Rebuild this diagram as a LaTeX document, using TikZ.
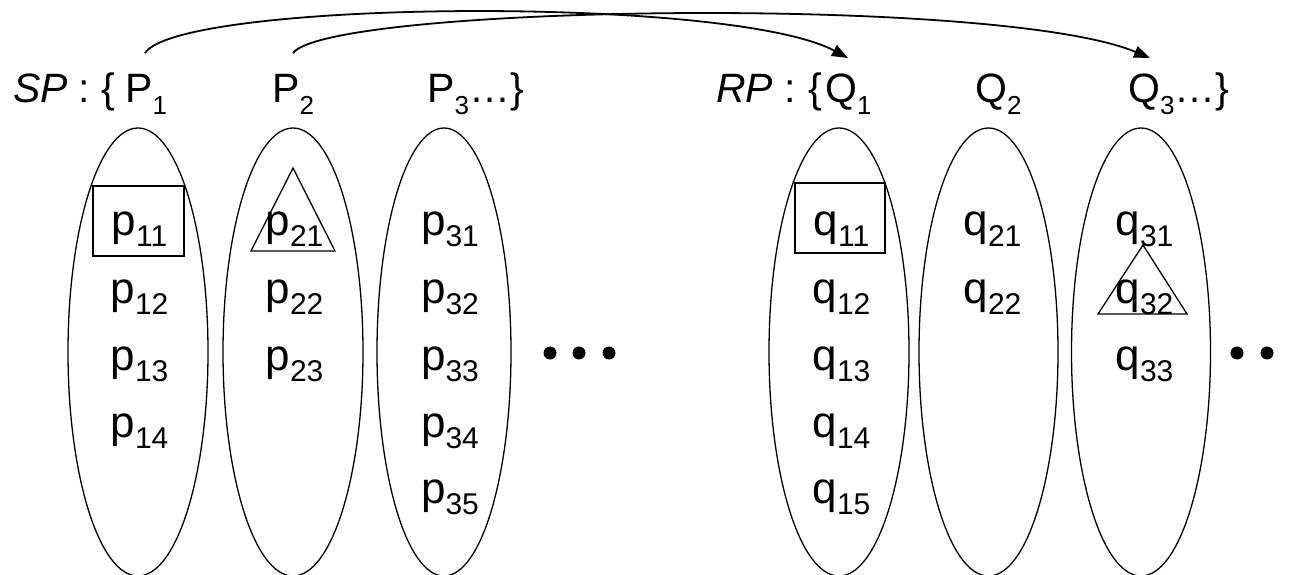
\documentclass[tikz,border=0pt]{standalone}
\usepackage{fontspec}
\setmainfont{Liberation Sans}
\usetikzlibrary{arrows.meta,shapes.geometric}
\newcommand\Lb[2]{#1\raisebox{-12pt}{\fontsize{26}{26}\selectfont #2}}
\newcommand\Li[2]{#1\raisebox{-11.5pt}{\fontsize{30}{30}\selectfont #2}}
\begin{document}
\begin{tikzpicture}[x=1pt,y=-1pt,
  setell/.style={draw, ellipse, line width=1.3pt, inner sep=0pt, minimum width=#1, minimum height=448pt},
  toplab/.style={anchor=base west, inner sep=0pt, font=\fontsize{41}{41}\selectfont},
  elt/.style={anchor=base, inner sep=0pt, font=\fontsize{44}{44}\selectfont},
  markbox/.style={draw, line width=1.3pt, inner sep=0pt},
  mapsto/.style={line width=1.8pt, -{Triangle[length=16pt,width=12pt]}},
  dotmark/.style={fill=black}]
\fill[white] (0,0) rectangle (1290,575);
\useasboundingbox (0,0) rectangle (1290,575);

% set ellipses
\node[setell=140pt] (E1) at (138,352) {};
\node[setell=140pt] (E2) at (293,352) {};
\node[setell=134pt] (E3) at (444,352) {};
\node[setell=140pt] (F1) at (839,352) {};
\node[setell=139pt] (F2) at (988.5,352) {};
\node[setell=139pt] (F3) at (1141,352) {};

% top labels
\node[toplab] (sp) at (13,103) {\textit{SP}};
\node[toplab] (spc) at (78,103) {:};
\node[toplab] (spb) at (101,103) {\{};
\node[toplab] (P1) at (125,103) {\Lb{P}{1}};
\node[toplab] (P2) at (272,103) {\Lb{P}{2}};
\node[toplab] (P3) at (427,103) {\Lb{P}{3}…\}};
\node[toplab] (rp) at (716,103) {\textit{RP}};
\node[toplab] (rpc) at (784,103) {:};
\node[toplab] (rpb) at (808,103) {\{};
\node[toplab] (Q1) at (825,103) {\Lb{Q}{1}};
\node[toplab] (Q2) at (975,103) {\Lb{Q}{2}};
\node[toplab] (Q3) at (1128,103) {\Lb{Q}{3}…\}};

% elements
\foreach \j/\y in {1/235,2/303,3/370,4/437}
  \node[elt] (p1\j) at (139.5,\y) {\Li{p}{1\j}};
\foreach \j/\y in {1/235,2/303,3/370}
  \node[elt] (p2\j) at (294.5,\y) {\Li{p}{2\j}};
\foreach \j/\y in {1/235,2/303,3/370,4/437,5/503}
  \node[elt] (p3\j) at (450,\y) {\Li{p}{3\j}};
\foreach \j/\y in {1/235,2/303,3/370,4/437,5/503}
  \node[elt] (q1\j) at (841.5,\y) {\Li{q}{1\j}};
\foreach \j/\y in {1/235,2/303}
  \node[elt] (q2\j) at (992.5,\y) {\Li{q}{2\j}};
\foreach \j/\y in {1/235,2/303,3/370}
  \node[elt] (q3\j) at (1144.5,\y) {\Li{q}{3\j}};

% marks
\node[markbox, minimum width=91pt, minimum height=70pt] (box1) at (138.5,221) {};
\node[markbox, minimum width=90pt, minimum height=70pt] (box2) at (840,218) {};
\draw[line width=1.3pt, line join=miter] (293,168) -- (251,251) -- (335,251) -- cycle;
\draw[line width=1.3pt, line join=miter] (1143,245) -- (1098,314) -- (1187,314) -- cycle;

% dots
\foreach \x [count=\i] in {550,579,609} \fill[dotmark] (\x,353) circle (6.5pt);
\foreach \x [count=\i] in {1237,1267} \fill[dotmark] (\x,353) circle (6.5pt);

% mapping arcs
\coordinate (s1) at (145,53);
\coordinate (s2) at (293,53);
\coordinate (t1) at (848,58);
\coordinate (t2) at (1150,58);
\draw[mapsto] (s1) .. controls (180,0) and (730,-5) .. (t1);
\draw[mapsto] (s2) .. controls (330,5) and (1000,-5) .. (t2);
\end{tikzpicture}
\end{document}
